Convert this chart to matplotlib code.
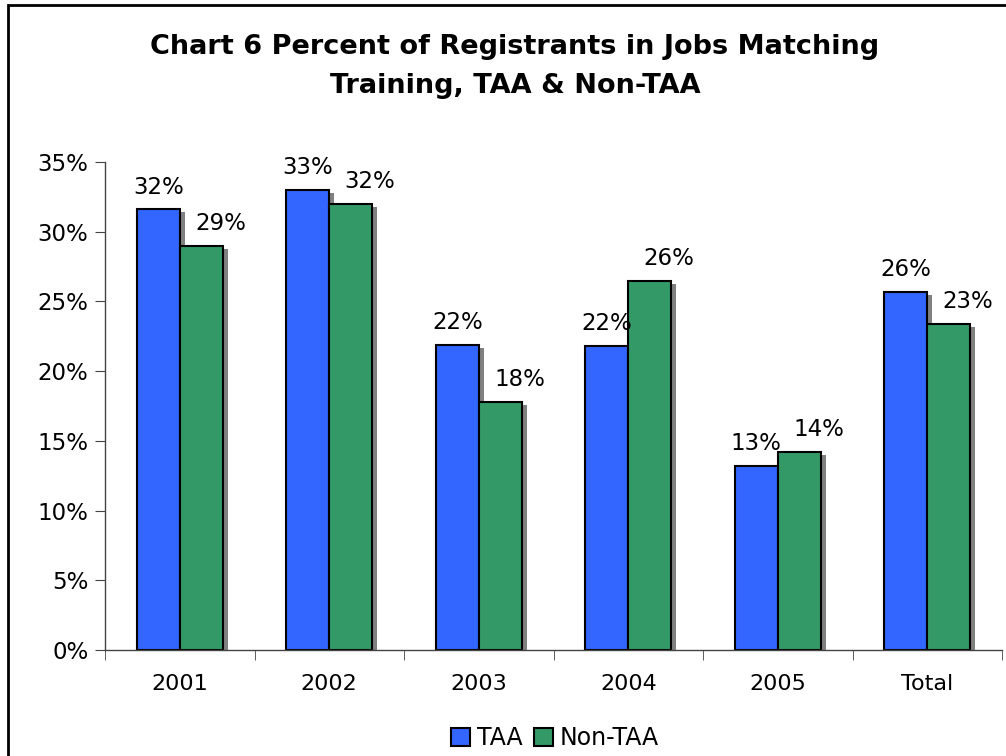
import matplotlib
matplotlib.use("Agg")
import matplotlib.pyplot as plt
import numpy as np
from matplotlib.patches import Rectangle
import matplotlib.transforms as mtransforms

categories = ["2001", "2002", "2003", "2004", "2005", "Total"]
taa = [31.6, 33.0, 21.9, 21.8, 13.2, 25.7]
non_taa = [29.0, 32.0, 17.8, 26.5, 14.2, 23.4]
taa_labels = ["32%", "33%", "22%", "22%", "13%", "26%"]
non_labels = ["29%", "32%", "18%", "26%", "14%", "23%"]
yticks = [0, 5, 10, 15, 20, 25, 30, 35]

blue = "#3366FF"
green = "#339966"
shadow = "#808080"

fig = plt.figure(figsize=(10.06, 7.56), dpi=100)
ax = fig.add_axes([105/1006, 1-650/756, 897/1006, 488/756])

x = np.arange(len(categories))
w = 43/150

# shadows
sh = mtransforms.offset_copy(ax.transData, fig=fig, x=5, y=-3, units="dots")
ax.bar(x - w/2, taa, w, color=shadow, transform=sh, zorder=1)
ax.bar(x + w/2, non_taa, w, color=shadow, transform=sh, zorder=1)
b1 = ax.bar(x - w/2, taa, w, color=blue, edgecolor="black", linewidth=1.5, zorder=2, label="TAA")
b2 = ax.bar(x + w/2, non_taa, w, color=green, edgecolor="black", linewidth=1.5, zorder=2, label="Non-TAA")

for xi, v, t in zip(x, taa, taa_labels):
    ax.annotate(t, (xi - w/2, v), xytext=(0, 16), textcoords="offset points",
                ha="center", va="center", fontsize=16.5)
for xi, v, t in zip(x, non_taa, non_labels):
    ax.annotate(t, (xi + w/2, v), xytext=(14, 16), textcoords="offset points",
                ha="center", va="center", fontsize=16.5)

ax.set_xlim(-0.5, len(categories) - 0.5)
ax.set_ylim(0, 35)
ax.set_yticks(yticks)
ax.set_yticklabels([f"{t}%" for t in yticks], fontsize=16.5)
ax.set_xticks(x)
ax.set_xticklabels(categories, fontsize=16)
ax.tick_params(axis="x", length=0, pad=17)
ax.set_xticks(np.arange(-0.5, len(categories) + 0.5, 1), minor=True)
ax.tick_params(axis="x", which="minor", length=7, direction="out", color="#444444")
ax.tick_params(axis="y", length=7, direction="out", color="#444444", pad=5)
for s in ["top", "right"]:
    ax.spines[s].set_visible(False)
for s in ["left", "bottom"]:
    ax.spines[s].set_color("#444444")
    ax.spines[s].set_linewidth(1)

fig.text(515/1006, 1-47/756, "Chart 6 Percent of Registrants in Jobs Matching",
         ha="center", va="center", fontsize=19.5, fontweight="bold")
fig.text(515/1006, 1-86/756, "Training, TAA & Non-TAA",
         ha="center", va="center", fontsize=19.5, fontweight="bold")

leg = fig.legend(handles=[b1, b2], labels=["TAA", "Non-TAA"], loc="center",
                 bbox_to_anchor=(555/1006, 1-738/756), ncol=2, frameon=False,
                 fontsize=17, handlelength=0.8, handleheight=0.8, handletextpad=0.3,
                 columnspacing=0.5, borderpad=0)

fig.patches.append(Rectangle((8/1006, -10/756), 1010/1006, 761/756, transform=fig.transFigure,
                             fill=False, edgecolor="black", linewidth=2))

fig.savefig("out.png", dpi=100)
